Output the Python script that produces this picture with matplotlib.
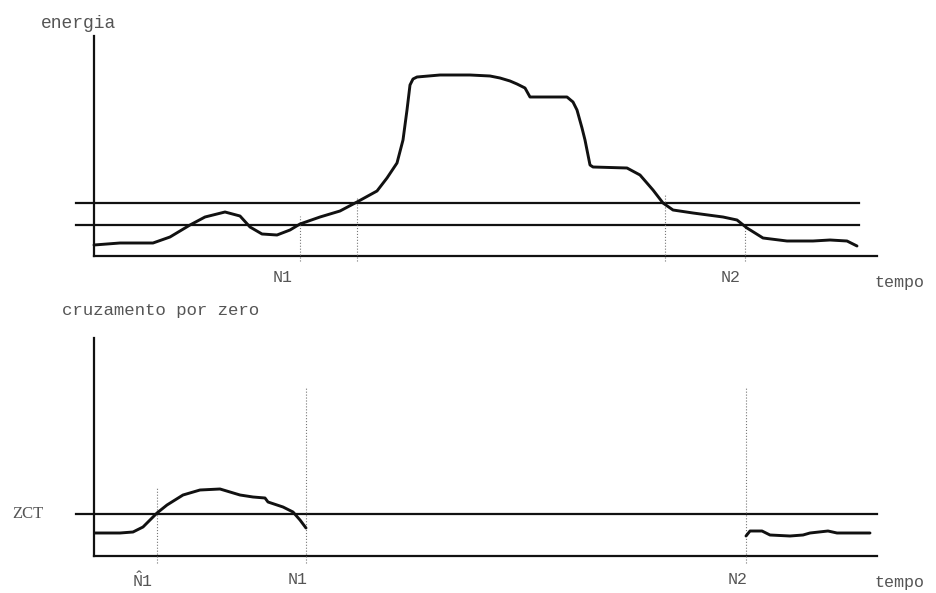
import matplotlib.pyplot as plt

# Energy curve (time, energy)
energy_t = [0, 26, 59, 76, 96, 111, 131, 146, 156, 168, 183, 196, 206, 226, 246,
            263, 283, 293, 303, 309, 313, 316, 319, 323, 346, 376, 396, 406, 416,
            423, 431, 436, 443, 473, 479, 483, 488, 491, 496, 499, 533, 546, 559,
            569, 579, 599, 629, 643, 653, 669, 693, 719, 736, 753, 763]
energy_v = [11, 13, 13, 19, 31, 39, 44, 40, 29, 22, 21, 26, 32, 39, 45,
            54, 65, 78, 93, 116, 146, 171, 177, 179, 181, 181, 180, 178, 175,
            172, 168, 159, 159, 159, 154, 146, 128, 116, 91, 89, 88, 81, 66,
            53, 46, 43, 39, 36, 28, 18, 15, 15, 16, 15, 10]

# Energy thresholds (upper and lower)
itu = 53
itl = 31

# Dotted markers on the energy plot: time and top of each line
energy_marks_t = [206, 263, 571, 651]
energy_marks_top = [40, 59, 61, 30]
energy_labels = ['N1', 'N2']
energy_label_t = [189, 637]

# Zero crossing curve, in two pieces
zc1_t = [1, 26, 39, 49, 56, 63, 73, 89, 106, 126, 146, 159, 171, 174, 189, 199, 206, 212]
zc1_v = [23, 23, 24, 29, 36, 43, 51, 61, 66, 67, 61, 59, 58, 54, 49, 44, 36, 28]
zc2_t = [652, 656, 668, 676, 696, 709, 716, 734, 743, 776]
zc2_v = [20, 25, 25, 21, 20, 21, 23, 25, 23, 23]

zct = 42

# Dotted markers on the zero crossing plot
zc_marks_t = [63, 212, 652]
zc_marks_top = [69, 169, 168]
zc_labels = [r'$\hat{\mathtt{N}}\mathtt{1}$', 'N1', 'N2']
zc_label_t = [49, 204, 644]

W, H = 937, 593
ink = '#111111'
txt = '#555555'
font = 'Liberation Mono'

plt.rcParams['mathtext.fontset'] = 'custom'
plt.rcParams['mathtext.tt'] = font
plt.rcParams['mathtext.rm'] = font


def make_axes(fig, left, bottom_px, width, height):
    ax = fig.add_axes([left / W, (H - bottom_px) / H, width / W, height / H])
    ax.set_xlim(0, width)
    ax.set_ylim(0, height)
    ax.axis('off')
    return ax


def draw_frame(ax, width, height):
    ax.plot([0, 0], [0, height], color=ink, lw=1.6, clip_on=False)
    ax.plot([0, width], [0, 0], color=ink, lw=1.6, clip_on=False)


fig = plt.figure(figsize=(9.37, 5.93), dpi=100)

# Upper plot: energia
ax1 = make_axes(fig, 94, 256, 783, 220)
draw_frame(ax1, 783, 220)
for level in [itu, itl]:
    ax1.plot([-18, 765], [level, level], color=ink, lw=1.6, clip_on=False)
for t, top in zip(energy_marks_t, energy_marks_top):
    ax1.plot([t, t], [-5, top], color='#777777', lw=0.8, ls=':', clip_on=False)
ax1.plot(energy_t, energy_v, color=ink, lw=2.1, clip_on=False,
         solid_joinstyle='round', solid_capstyle='round')
ax1.text(-15, 233, 'energia', family=font, fontsize=13, color=txt,
         ha='center', va='center')
for lab, t in zip(energy_labels, energy_label_t):
    ax1.text(t, -21, lab, family=font, fontsize=12, color=txt, ha='center', va='center')
ax1.text(781, -27, 'tempo', family=font, fontsize=12, color=txt, ha='left', va='center')

# Lower plot: cruzamento por zero
ax2 = make_axes(fig, 94, 556, 783, 218)
draw_frame(ax2, 783, 218)
ax2.plot([-18, 783], [zct, zct], color=ink, lw=1.6, clip_on=False)
for t, top in zip(zc_marks_t, zc_marks_top):
    ax2.plot([t, t], [-7, top], color='#777777', lw=0.8, ls=':', clip_on=False)
ax2.plot(zc1_t, zc1_v, color=ink, lw=2.1, clip_on=False,
         solid_joinstyle='round', solid_capstyle='round')
ax2.plot(zc2_t, zc2_v, color=ink, lw=2.1, clip_on=False,
         solid_joinstyle='round', solid_capstyle='round')
ax2.text(-32, 246, 'cruzamento por zero', family=font, fontsize=12.5, color=txt,
         ha='left', va='center')
ax2.text(-82, zct, 'ZCT', family='Liberation Serif', fontsize=12, color=txt,
         ha='left', va='center')
for lab, t in zip(zc_labels, zc_label_t):
    ax2.text(t, -24, lab, family=font, fontsize=12, color=txt, ha='center', va='center')
ax2.text(781, -27, 'tempo', family=font, fontsize=12, color=txt, ha='left', va='center')

fig.savefig('out.png', dpi=100)
